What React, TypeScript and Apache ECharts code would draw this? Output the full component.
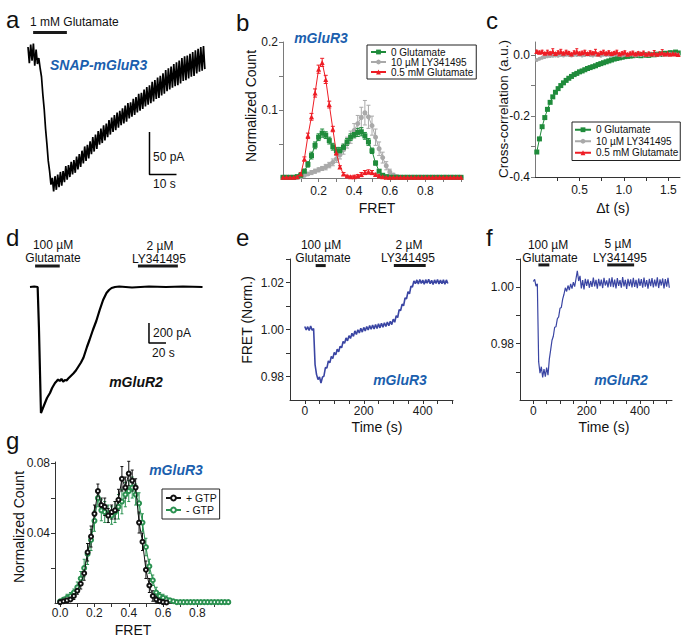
import React, { useEffect, useRef } from "react";
import * as echarts from "echarts";

const FONT = "'Liberation Sans', Arial, Helvetica, sans-serif";
const LABEL_BLUE = "#1b5fae";
const TRACE_BLUE = "#3a45a3";
const B_GREEN_C = "#1f8b3b";
const B_GREY_C = "#a9a9a9";
const B_RED_C = "#ee1d25";
const G_GREEN_C = "#2a9150";

// ---------- panel a: SNAP-mGluR3 current (pA), sampled every 0.5 s ----------
const A_DT = 0.5;
const A_CURRENT = [
  10, -9, 13, -6, 14, -12, 7, -10,
  -3, -15, -25, -46, -63, -86, -104, -124, -136, -152, -144, -160,
  -142, -158, -140, -155, -137, -153, -136, -149, -130, -146,
  -129, -143, -125, -140, -123, -138, -119, -134, -116, -131,
  -112, -127, -107, -124, -105, -121, -101, -116, -96, -113,
  -93, -110, -89, -105, -86, -103, -82, -100, -80, -96,
  -76, -93, -73, -90, -70, -88, -67, -85, -65, -82,
  -62, -80, -59, -78, -56, -74, -55, -72, -51, -70,
  -49, -67, -45, -65, -44, -63, -40, -60, -37, -58,
  -35, -56, -31, -54, -29, -51, -26, -50, -24, -47,
  -21, -45, -17, -42, -15, -40, -13, -38, -10, -36,
  -8, -35, -6, -33, -3, -30, -1, -29, 0, -27,
  2, -25, 4, -24, 6, -21, 8, -19, 10, -18,
  11, -16,
];
const A_SCALE = [[45, -90], [45, -140], [55, -140]];
const A_GLU = [[1.9, 27], [14.4, 27]];

// ---------- panel b: FRET histograms ----------
const B_FRET = [
  0, 0.02, 0.04, 0.06, 0.08, 0.1, 0.12, 0.14, 0.16, 0.18,
  0.2, 0.22, 0.24, 0.26, 0.28, 0.3, 0.32, 0.34, 0.36, 0.38,
  0.4, 0.42, 0.44, 0.46, 0.48, 0.5, 0.52, 0.54, 0.56, 0.58,
  0.6, 0.62, 0.64, 0.66, 0.68, 0.7, 0.72, 0.74, 0.76, 0.78,
  0.8, 0.82, 0.84, 0.86, 0.88, 0.9, 0.92, 0.94, 0.96, 0.98, 1.0,
];
const B_GREEN = [
  0.001, 0.001, 0.001, 0.001, 0.002, 0.004, 0.01, 0.02, 0.033, 0.048,
  0.06, 0.066, 0.063, 0.055, 0.046, 0.04, 0.04, 0.045, 0.053, 0.06,
  0.064, 0.067, 0.068, 0.062, 0.053, 0.04, 0.022, 0.01, 0.004, 0.002,
  0.001, 0.001, 0.001, 0.001, 0.001, 0.001, 0.001, 0.001, 0.001, 0.001,
  0.001, 0.001, 0.001, 0.001, 0.001, 0.001, 0.001, 0.001, 0.001, 0.001, 0.001,
];
const B_GREEN_ERR = [
  0.001, 0.001, 0.001, 0.001, 0.001, 0.002, 0.003, 0.004, 0.005, 0.005,
  0.005, 0.006, 0.005, 0.005, 0.005, 0.005, 0.005, 0.005, 0.005, 0.005,
  0.005, 0.006, 0.006, 0.005, 0.005, 0.004, 0.003, 0.002, 0.002, 0.001,
  0.001, 0.001, 0.001, 0.001, 0.001, 0.001, 0.001, 0.001, 0.001, 0.001,
  0.001, 0.001, 0.001, 0.001, 0.001, 0.001, 0.001, 0.001, 0.001, 0.001, 0.001,
];
const B_GREY = [
  0.001, 0.001, 0.001, 0.001, 0.001, 0.002, 0.004, 0.006, 0.008, 0.01,
  0.012, 0.014, 0.016, 0.019, 0.023, 0.028, 0.034, 0.042, 0.052, 0.06,
  0.07, 0.08, 0.089, 0.096, 0.09, 0.077, 0.06, 0.043, 0.03, 0.018,
  0.009, 0.004, 0.002, 0.001, 0.001, 0.001, 0.001, 0.001, 0.001, 0.001,
  0.001, 0.001, 0.001, 0.001, 0.001, 0.001, 0.001, 0.001, 0.001, 0.001, 0.001,
];
const B_GREY_ERR = [
  0.001, 0.001, 0.001, 0.001, 0.001, 0.002, 0.002, 0.002, 0.003, 0.003,
  0.003, 0.003, 0.004, 0.004, 0.005, 0.005, 0.006, 0.007, 0.008, 0.009,
  0.01, 0.012, 0.015, 0.018, 0.017, 0.014, 0.012, 0.01, 0.008, 0.006,
  0.004, 0.003, 0.002, 0.001, 0.001, 0.001, 0.001, 0.001, 0.001, 0.001,
  0.001, 0.001, 0.001, 0.001, 0.001, 0.001, 0.001, 0.001, 0.001, 0.001, 0.001,
];
const B_RED = [
  0.001, 0.001, 0.001, 0.001, 0.002, 0.006, 0.028, 0.062, 0.09, 0.125,
  0.16, 0.17, 0.145, 0.108, 0.072, 0.037, 0.016, 0.006, 0.003, 0.002,
  0.002, 0.003, 0.005, 0.008, 0.009, 0.008, 0.005, 0.003, 0.002, 0.001,
  0.001, 0.001, 0.001, 0.001, 0.001, 0.001, 0.001, 0.001, 0.001, 0.001,
  0.001, 0.001, 0.001, 0.001, 0.001, 0.001, 0.001, 0.001, 0.001, 0.001, 0.001,
];
const B_RED_ERR = [
  0.001, 0.001, 0.001, 0.001, 0.001, 0.002, 0.003, 0.004, 0.005, 0.006,
  0.006, 0.006, 0.006, 0.005, 0.004, 0.003, 0.002, 0.002, 0.001, 0.001,
  0.002, 0.002, 0.003, 0.003, 0.003, 0.003, 0.002, 0.002, 0.001, 0.001,
  0.001, 0.001, 0.001, 0.001, 0.001, 0.001, 0.001, 0.001, 0.001, 0.001,
  0.001, 0.001, 0.001, 0.001, 0.001, 0.001, 0.001, 0.001, 0.001, 0.001, 0.001,
];

// ---------- panel c: cross-correlation ----------
const C_LAG = [
  0.02, 0.05, 0.08, 0.11, 0.14, 0.17, 0.2, 0.23, 0.26, 0.29,
  0.32, 0.35, 0.38, 0.41, 0.44, 0.47, 0.5, 0.53, 0.56, 0.59,
  0.62, 0.65, 0.68, 0.71, 0.74, 0.77, 0.8, 0.83, 0.86, 0.89,
  0.92, 0.95, 0.98, 1.01, 1.04, 1.07, 1.1, 1.13, 1.16, 1.19,
  1.22, 1.25, 1.28, 1.31, 1.34, 1.37, 1.4, 1.43, 1.46, 1.49,
  1.52, 1.55, 1.58, 1.61,
];
const C_GREEN = [
  -0.318, -0.275, -0.235, -0.205, -0.178, -0.155, -0.137, -0.122, -0.11, -0.1,
  -0.091, -0.083, -0.076, -0.07, -0.064, -0.06, -0.055, -0.052, -0.048, -0.044,
  -0.041, -0.038, -0.035, -0.031, -0.028, -0.025, -0.022, -0.019, -0.016, -0.013,
  -0.011, -0.009, -0.007, -0.005, -0.004, -0.003, -0.002, -0.001, 0, -0.002,
  0.001, 0, -0.001, 0.002, 0.001, 0.003, 0.002, 0.004, 0.006, 0.005,
  0.008, 0.006, 0.01, 0.007,
];
const C_GREY = [
  -0.016, -0.012, -0.009, -0.006, -0.004, -0.003, -0.002, -0.001, -0.002, 0,
  -0.001, 0.001, 0, -0.001, 0.001, 0, 0.001, -0.001, 0, 0.002,
  0, -0.001, 0.001, 0, -0.002, 0.001, 0, 0.001, -0.001, 0,
  0.002, 0, -0.001, 0.001, 0, 0.002, 0.001, -0.001, 0.001, 0,
  0.002, 0.001, 0, 0.003, 0.001, 0.002, 0, 0.003, 0.002, 0.001,
  0.004, 0.002, 0.003, 0.001,
];
const C_RED = [
  0.012, 0.009, 0.011, 0.006, 0.01, 0.007, 0.012, 0.005, 0.009, 0.011,
  0.006, 0.01, 0.008, 0.004, 0.009, 0.011, 0.006, 0.008, 0.01, 0.005,
  0.009, 0.007, 0.011, 0.004, 0.008, 0.01, 0.006, 0.009, 0.005, 0.008,
  0.01, 0.004, 0.007, 0.009, 0.003, 0.006, 0.008, 0.004, 0.007, 0.005,
  0.008, 0.003, 0.006, 0.004, 0.007, 0.003, 0.006, 0.008, 0.004, 0.006,
  0.003, 0.005, 0.004, 0.002,
];
const C_RED_ERR = [
  0.004, 0.004, 0.005, 0.003, 0.006, 0.004, 0.009, 0.003, 0.005, 0.008,
  0.004, 0.006, 0.004, 0.003, 0.005, 0.01, 0.004, 0.005, 0.006, 0.003,
  0.005, 0.004, 0.008, 0.003, 0.004, 0.006, 0.004, 0.005, 0.003, 0.004,
  0.006, 0.003, 0.004, 0.005, 0.003, 0.004, 0.005, 0.003, 0.004, 0.003,
  0.005, 0.003, 0.004, 0.003, 0.008, 0.003, 0.004, 0.01, 0.003, 0.004,
  0.003, 0.004, 0.003, 0.003,
];
const C_Y_TICKS = [-0.4, -0.3, -0.2, -0.1, 0];
const C_Y_LABELS = [-0.4, -0.2, 0];

// ---------- panel d: mGluR2 current ----------
const D_TIME = [
  0, 5, 9, 10.5, 12.9, 15, 17.6, 20, 23.5, 26, 29.4, 31, 33, 35, 37, 39, 41, 43, 45, 48,
  51, 54, 57, 60, 63, 67, 70, 74, 78, 82, 86, 90, 93, 96, 100, 105, 120, 140, 160, 180, 203,
];
const D_CURRENT = [
  0, 5, 0, -400, -1260, -1215, -1160, -1110, -1060, -1010, -960, -945, -925, -940, -918, -948, -930, -935, -915, -890,
  -865, -835, -795, -755, -705, -600, -530, -430, -340, -230, -130, -60, -30, -10, 0, 5, -5, 5, 0, 5, 0,
];
const D_SCALE = [[140, -360], [140, -560], [160, -560]];
const D_GLU = [[6, 210], [35, 210]];
const D_LY = [[127, 210], [174, 210]];

// ---------- panel e: mGluR3 FRET, every 5 s ----------
const E_DT = 5;
const E_FRET = [
  1.0013, 0.9998, 1.0012, 0.9996, 1.0015, 0.9997, 1.0004, 0.985, 0.9808, 0.9787,
  0.9798, 0.9772, 0.9797, 0.9802, 0.9838, 0.9836, 0.9866, 0.9858, 0.9885, 0.9876,
  0.9902, 0.9892, 0.9916, 0.9905, 0.9929, 0.9922, 0.9949, 0.9941, 0.9964, 0.9952,
  0.9974, 0.9962, 0.9984, 0.9971, 0.9994, 0.9979, 0.9999, 0.9985, 1.0005, 0.9989,
  1.0009, 0.9994, 1.0013, 0.9998, 1.0017, 1.0001, 1.0019, 1.0002, 1.0021, 1.0004,
  1.0024, 1.0007, 1.0027, 1.001, 1.0029, 1.0013, 1.0032, 1.0016, 1.0035, 1.0021,
  1.0044, 1.0031, 1.0059, 1.0051, 1.0084, 1.0081, 1.0108, 1.0101, 1.0134, 1.0131,
  1.0161, 1.0152, 1.0184, 1.0181, 1.0207, 1.0195, 1.0211, 1.0194, 1.0213, 1.0196,
  1.021, 1.0193, 1.0212, 1.0197, 1.0214, 1.0195, 1.0209, 1.0192, 1.0211, 1.0196,
  1.0213, 1.0194, 1.021, 1.0195, 1.0212, 1.0193, 1.0211, 1.0196,
];
const E_GLU = [[37, 1.0272], [71, 1.0272]];
const E_LY = [[302, 1.0272], [410, 1.0272]];

// ---------- panel f: mGluR2 FRET, every 5 s ----------
const F_DT = 5;
const F_FRET = [
  1.002, 1.0028, 1.0004, 1.0012, 0.9735, 0.9695, 0.9718, 0.968, 0.971, 0.9683,
  0.9715, 0.9688, 0.9745, 0.9778, 0.9812, 0.9826, 0.9858, 0.986, 0.9888, 0.9895,
  0.9925, 0.9928, 0.9958, 0.9975, 0.9998, 0.9985, 1.0006, 0.999, 1.0012, 0.9995,
  1.0018, 1.0002, 1.003, 1.0058, 1.0022, 1.004, 0.9996, 1.0025, 0.9992, 1.003,
  1.0005, 1.0028, 0.9998, 1.0022, 1.0001, 1.0034, 1.0003, 1.0026, 0.9995, 1.003,
  1.0004, 1.0027, 0.9997, 1.0033, 1.0006, 1.0024, 0.9999, 1.0031, 1.0002, 1.0035,
  1.0, 1.0027, 0.9996, 1.0032, 1.0005, 1.0025, 0.9998, 1.0036, 1.0003, 1.0026,
  0.9994, 1.003, 1.0004, 1.0028, 0.9999, 1.0033, 1.0001, 1.0026, 0.9997, 1.0031,
  1.0005, 1.0029, 0.9998, 1.0034, 1.0002, 1.0025, 0.9995, 1.003, 1.0004, 1.0032,
  0.9999, 1.0027, 1.0003, 1.0035, 0.9997, 1.0028, 1.0006, 1.0031, 0.9996, 1.0029,
  1.0002, 1.0033, 0.9998,
];
const F_GLU = [[19, 1.0079], [60, 1.0079]];
const F_LY = [[277, 1.0079], [378, 1.0079]];

// ---------- panel g: +/- GTP histograms ----------
const G_FRET = [
  0, 0.02, 0.04, 0.06, 0.08, 0.1, 0.12, 0.14, 0.16, 0.18,
  0.2, 0.22, 0.24, 0.26, 0.28, 0.3, 0.32, 0.34, 0.36, 0.38,
  0.4, 0.42, 0.44, 0.46, 0.48, 0.5, 0.52, 0.54, 0.56, 0.58,
  0.6, 0.62, 0.64, 0.66, 0.68, 0.7, 0.72, 0.74, 0.76, 0.78,
  0.8, 0.82, 0.84, 0.86, 0.88, 0.9, 0.92, 0.94, 0.96, 0.98,
];
const G_PLUS = [
  0.0005, 0.001, 0.0015, 0.002, 0.004, 0.007, 0.011, 0.017, 0.029, 0.038,
  0.051, 0.064, 0.056, 0.055, 0.05, 0.052, 0.053, 0.059, 0.071, 0.066,
  0.074, 0.07, 0.066, 0.046, 0.035, 0.019, 0.01, 0.004, 0.002, 0.001,
  0.0005, 0.0003,
];
const G_PLUS_ERR = [
  0.001, 0.001, 0.001, 0.001, 0.002, 0.002, 0.003, 0.004, 0.005, 0.006,
  0.005, 0.004, 0.004, 0.005, 0.004, 0.004, 0.005, 0.006, 0.007, 0.006,
  0.007, 0.006, 0.005, 0.006, 0.005, 0.005, 0.004, 0.003, 0.002, 0.001,
  0.001, 0.001,
];
const G_MINUS = [
  0.001, 0.002, 0.003, 0.004, 0.006, 0.009, 0.014, 0.02, 0.028, 0.036,
  0.047, 0.06, 0.053, 0.052, 0.051, 0.05, 0.052, 0.055, 0.058, 0.062,
  0.064, 0.066, 0.062, 0.057, 0.046, 0.032, 0.021, 0.013, 0.006, 0.004,
  0.003, 0.002, 0.0015, 0.001, 0.0005, 0.0005, 0.0005, 0.0005, 0.0005, 0.0005,
  0.0005, 0.0005, 0.0005, 0.0005, 0.0005, 0.0005, 0.0005, 0.0005, 0.0005, 0.0005,
];
const G_MINUS_ERR = [
  0.001, 0.001, 0.002, 0.002, 0.002, 0.003, 0.004, 0.005, 0.006, 0.006,
  0.006, 0.005, 0.006, 0.006, 0.005, 0.005, 0.006, 0.007, 0.007, 0.007,
  0.006, 0.006, 0.006, 0.006, 0.005, 0.005, 0.004, 0.003, 0.003, 0.002,
  0.002, 0.002, 0.001, 0.001, 0.0005, 0.0005, 0.0005, 0.0005, 0.0005, 0.0005,
  0.0005, 0.0005, 0.0005, 0.0005, 0.0005, 0.0005, 0.0005, 0.0005, 0.0005, 0.0005,
];

// ---------- helpers ----------
const pairs = (xs: number[], ys: number[]) => ys.map((y, i) => [xs[i], y]);
const sampled = (ys: number[], dt: number) => ys.map((y, i) => [i * dt, y]);

const hiddenAxis = (gridIndex: number, min: number, max: number) => ({
  type: "value", gridIndex, min, max, show: false,
});

const valAxis = (
  gridIndex: number, min: number, max: number, ticks: number[], labels: number[],
  fmt: (v: number) => string, color: string, margin: number, showLabels = true
) => ({
  type: "value", gridIndex, min, max,
  splitLine: { show: false },
  axisLine: { show: true, onZero: false, lineStyle: { color, width: 1 } },
  axisTick: { show: true, length: 4, inside: false, customValues: ticks, lineStyle: { color, width: 1 } },
  axisLabel: {
    show: showLabels, customValues: labels, formatter: fmt, fontSize: 12,
    color: "#1a1a1a", fontFamily: FONT, margin, showMinLabel: true, showMaxLabel: true,
  },
});

const line = (idx: number, data: any[], color: string, width: number, extra: any = {}) => ({
  type: "line", xAxisIndex: idx, yAxisIndex: idx, data, symbol: "none",
  lineStyle: { color, width }, silent: true, z: 3, ...extra,
});

const stim = (idx: number, data: any[]) =>
  line(idx, data, "#1a1a1a", 3, { clip: false, z: 4 });

const errSeries = (idx: number, xs: number[], ys: number[], es: number[], color: string, cap: number, floor: number) => ({
  type: "custom", xAxisIndex: idx, yAxisIndex: idx, silent: true, z: 2,
  encode: { x: 0, y: 1 },
  data: ys.map((y, i) => [xs[i], y, es[i]]),
  renderItem: (params: any, api: any) => {
    const x = api.value(0), y = api.value(1), e = api.value(2);
    const top = api.coord([x, y + e]);
    const bot = api.coord([x, Math.max(y - e, floor)]);
    const st = { stroke: color, lineWidth: 1 };
    return {
      type: "group",
      children: [
        { type: "line", shape: { x1: top[0], y1: top[1], x2: bot[0], y2: bot[1] }, style: st },
        { type: "line", shape: { x1: top[0] - cap, y1: top[1], x2: top[0] + cap, y2: top[1] }, style: st },
        { type: "line", shape: { x1: bot[0] - cap, y1: bot[1], x2: bot[0] + cap, y2: bot[1] }, style: st },
      ],
    };
  },
});

const txt = (x: number, y: number, text: string, o: any = {}) => ({
  type: "text", x, y, silent: true, rotation: o.rot || 0, z: o.z || 10,
  style: {
    text,
    fill: o.color || "#111",
    fontSize: o.size || 12,
    fontFamily: FONT,
    fontWeight: o.weight || "normal",
    fontStyle: o.style || "normal",
    align: o.align || "left",
    textAlign: o.align || "left",
    verticalAlign: "middle",
    textVerticalAlign: "middle",
  },
});

const letter = (x: number, y: number, t: string) => txt(x, y, t, { size: 24 });
const tag = (x: number, y: number, t: string, color = LABEL_BLUE) =>
  txt(x, y, t, { size: 14, weight: "bold", style: "italic", color, align: "center" });

const fix = (n: number) => (v: number) => Number(v).toFixed(n);

export default function App() {
  const ref = useRef<HTMLDivElement>(null);
  useEffect(() => {
    const chart = echarts.init(ref.current!, null, { renderer: "svg" });
    const AX_B = "#7a7a7a";
    const AX_D = "#333";
    const graphic: any[] = [
      // panel letters
      letter(6, 19, "a"), letter(236, 22, "b"), letter(486, 20, "c"),
      letter(6, 237, "d"), letter(236, 237, "e"), letter(486, 237, "f"),
      letter(6, 440, "g"),
      // panel a
      txt(30, 22, "1 mM Glutamate"),
      txt(50, 65, "SNAP-mGluR3", { size: 14, weight: "bold", style: "italic", color: LABEL_BLUE }),
      txt(153, 157, "50 pA"),
      txt(153, 184, "10 s"),
      // panel b
      tag(321, 38, "mGluR3"),
      txt(251, 106, "Normalized Count", { size: 14, align: "center", rot: Math.PI / 2 }),
      txt(377, 208, "FRET", { size: 14, align: "center" }),
      // panel c
      txt(503, 109, "Cross-correlation (a.u.)", { size: 13.5, align: "center", rot: Math.PI / 2, z: 9 }),
      txt(613, 208, "Δt (s)", { size: 14, align: "center" }),
      // panel d
      txt(53, 244.5, "100 µM", { align: "center" }),
      txt(53, 257.5, "Glutamate", { align: "center" }),
      txt(160, 245.5, "2 µM", { align: "center" }),
      txt(159, 258.5, "LY341495", { align: "center" }),
      txt(153, 333, "200 pA"),
      txt(152, 353, "20 s"),
      tag(136, 382, "mGluR2", "#111"),
      // panel e
      txt(321, 245, "100 µM", { align: "center" }),
      txt(323, 258, "Glutamate", { align: "center" }),
      txt(409, 245, "2 µM", { align: "center" }),
      txt(408, 258, "LY341495", { align: "center" }),
      tag(400, 380, "mGluR3"),
      txt(247, 320, "FRET (Norm.)", { size: 14, align: "center", rot: Math.PI / 2 }),
      txt(377, 427, "Time (s)", { size: 14, align: "center" }),
      // panel f
      txt(548, 245, "100 µM", { align: "center" }),
      txt(550, 258, "Glutamate", { align: "center" }),
      txt(618, 244, "5 µM", { align: "center" }),
      txt(620, 258, "LY341495", { align: "center" }),
      tag(621, 380, "mGluR2"),
      txt(604, 427, "Time (s)", { size: 14, align: "center" }),
      // panel g
      tag(176, 470, "mGluR3"),
      txt(19, 527, "Normalized Count", { size: 14, align: "center", rot: Math.PI / 2 }),
      txt(133, 630, "FRET", { size: 14, align: "center" }),
    ];
    const option: any = {
      animation: false,
      backgroundColor: "#fff",
      textStyle: { fontFamily: FONT },
      grid: [
        { left: 28, top: 30, width: 180, height: 170 },
        { left: 283, top: 42, width: 178, height: 136 },
        { left: 535, top: 42, width: 145, height: 135 },
        { left: 30, top: 260, width: 180, height: 160 },
        { left: 290, top: 259, width: 163, height: 141 },
        { left: 520, top: 259, width: 152, height: 141 },
        { left: 55, top: 462, width: 175, height: 141 },
      ],
      xAxis: [
        hiddenAxis(0, 0, 66.67),
        valAxis(1, 0, 1, [0.1, 0.2, 0.3, 0.4, 0.5, 0.6, 0.7, 0.8, 0.9, 1.0], [0.2, 0.4, 0.6, 0.8], fix(1), AX_B, 7),
        valAxis(2, 0, 1.63, [0.25, 0.5, 0.75, 1.0, 1.25, 1.5], [0.5, 1.0, 1.5], fix(1), AX_D, 7),
        hiddenAxis(3, 0, 211.8),
        valAxis(4, -50, 502.5, [0, 50, 100, 150, 200, 250, 300, 350, 400, 450, 500], [0, 200, 400], fix(0), AX_D, 5),
        valAxis(5, -50, 520, [0, 50, 100, 150, 200, 250, 300, 350, 400, 450, 500], [0, 200, 400], fix(0), AX_D, 5),
        valAxis(6, -0.03, 0.99, [0, 0.1, 0.2, 0.3, 0.4, 0.5, 0.6, 0.7, 0.8, 0.9], [0, 0.2, 0.4, 0.6, 0.8], fix(1), AX_D, 4),
      ],
      yAxis: [
        hiddenAxis(0, -170, 30),
        valAxis(1, 0, 0.2, [0.05, 0.1, 0.15, 0.2], [0.1, 0.2], fix(1), AX_B, 5),
        // c: ticks from the axis; its labels are placed from the same scale below
        valAxis(2, -0.4, 0.043, C_Y_TICKS, C_Y_LABELS, fix(1), AX_B, 5, false),
        hiddenAxis(3, -1330, 270),
        valAxis(4, 0.97, 1.03, [0.98, 0.99, 1.0, 1.01, 1.02, 1.03], [0.98, 1.0, 1.02], fix(2), AX_D, 6),
        valAxis(5, 0.96, 1.01, [0.97, 0.98, 0.99, 1.0, 1.01], [0.98, 1.0], fix(2), AX_D, 6),
        valAxis(6, 0, 0.0806, [0.02, 0.04, 0.06, 0.08], [0.04, 0.08], fix(2), AX_D, 5),
      ],
      legend: [
        {
          orient: "vertical", left: 367, top: 45, selectedMode: false,
          data: ["0 Glutamate", "10 µM LY341495", "0.5 mM Glutamate"],
          itemWidth: 15, itemHeight: 6, itemGap: 0, padding: [2, 3, 2, 3],
          borderColor: "#222", borderWidth: 1, backgroundColor: "#fff",
          textStyle: { fontSize: 10, lineHeight: 10, fontFamily: FONT, color: "#111" },
        },
        {
          orient: "vertical", left: 572, top: 122, selectedMode: false,
          data: ["0 Glutamate", "10 µM LY341495", "0.5 mM Glutamate"],
          itemWidth: 16, itemHeight: 6, itemGap: 0, padding: [2, 2, 2, 2],
          borderColor: "#222", borderWidth: 1, backgroundColor: "#fff",
          textStyle: { fontSize: 10, lineHeight: 11.5, fontFamily: FONT, color: "#111" },
        },
        {
          orient: "vertical", left: 162, top: 489, selectedMode: false,
          data: ["+ GTP", "- GTP"],
          itemWidth: 15, itemHeight: 6, itemGap: 0, padding: [3, 3, 3, 3],
          borderColor: "#222", borderWidth: 1, backgroundColor: "#fff",
          textStyle: { fontSize: 10.5, lineHeight: 12, fontFamily: FONT, color: "#111" },
        },
      ],
      series: [
        // a
        line(0, sampled(A_CURRENT, A_DT), "#000", 1.7),
        line(0, A_SCALE, "#000", 1.5),
        stim(0, A_GLU),
        // b
        errSeries(1, B_FRET, B_GREY, B_GREY_ERR, B_GREY_C, 2, 0),
        errSeries(1, B_FRET, B_GREEN, B_GREEN_ERR, B_GREEN_C, 2, 0),
        errSeries(1, B_FRET, B_RED, B_RED_ERR, B_RED_C, 2, 0),
        {
          type: "line", name: "10 µM LY341495", xAxisIndex: 1, yAxisIndex: 1, data: pairs(B_FRET, B_GREY),
          symbol: "circle", symbolSize: 5, lineStyle: { color: B_GREY_C, width: 1 },
          itemStyle: { color: B_GREY_C }, z: 3,
        },
        {
          type: "line", name: "0 Glutamate", xAxisIndex: 1, yAxisIndex: 1, data: pairs(B_FRET, B_GREEN),
          symbol: "rect", symbolSize: 5, lineStyle: { color: B_GREEN_C, width: 1 },
          itemStyle: { color: B_GREEN_C }, z: 4,
        },
        {
          type: "line", name: "0.5 mM Glutamate", xAxisIndex: 1, yAxisIndex: 1, data: pairs(B_FRET, B_RED),
          symbol: "triangle", symbolSize: 5, lineStyle: { color: B_RED_C, width: 1 },
          itemStyle: { color: B_RED_C }, z: 5,
        },
        // c
        errSeries(2, C_LAG, C_RED, C_RED_ERR, B_RED_C, 1.5, -1),
        {
          type: "line", name: "0 Glutamate", xAxisIndex: 2, yAxisIndex: 2, data: pairs(C_LAG, C_GREEN),
          symbol: "rect", symbolSize: 5, lineStyle: { color: B_GREEN_C, width: 1 },
          itemStyle: { color: B_GREEN_C }, z: 3,
        },
        {
          type: "line", name: "10 µM LY341495", xAxisIndex: 2, yAxisIndex: 2, data: pairs(C_LAG, C_GREY),
          symbol: "circle", symbolSize: 4, lineStyle: { color: B_GREY_C, width: 1 },
          itemStyle: { color: B_GREY_C }, z: 4,
        },
        {
          type: "line", name: "0.5 mM Glutamate", xAxisIndex: 2, yAxisIndex: 2, data: pairs(C_LAG, C_RED),
          symbol: "triangle", symbolSize: 5, lineStyle: { color: B_RED_C, width: 1 },
          itemStyle: { color: B_RED_C }, z: 5,
        },
        // d
        line(3, pairs(D_TIME, D_CURRENT), "#000", 2.2),
        line(3, D_SCALE, "#000", 1.5),
        stim(3, D_GLU),
        stim(3, D_LY),
        // e
        line(4, sampled(E_FRET, E_DT), TRACE_BLUE, 1.6),
        stim(4, E_GLU),
        stim(4, E_LY),
        // f
        line(5, sampled(F_FRET, F_DT), TRACE_BLUE, 1.2),
        stim(5, F_GLU),
        stim(5, F_LY),
        // g
        errSeries(6, G_FRET, G_MINUS, G_MINUS_ERR, G_GREEN_C, 1.5, 0),
        errSeries(6, G_FRET, G_PLUS, G_PLUS_ERR, "#111", 1.5, 0),
        {
          type: "line", name: "- GTP", xAxisIndex: 6, yAxisIndex: 6, data: pairs(G_FRET, G_MINUS),
          symbol: "emptyCircle", symbolSize: 4, lineStyle: { color: G_GREEN_C, width: 1 },
          itemStyle: { color: G_GREEN_C, borderWidth: 1 }, z: 3,
        },
        {
          type: "line", name: "+ GTP", xAxisIndex: 6, yAxisIndex: 6, data: pairs(G_FRET, G_PLUS),
          symbol: "emptyCircle", symbolSize: 4, lineStyle: { color: "#111", width: 1 },
          itemStyle: { color: "#111", borderWidth: 1 }, z: 4,
        },
      ],
      graphic,
    };
    chart.setOption(option);
    // c's y tick labels, positioned through the c y-axis scale
    const axisX = chart.convertToPixel({ xAxisIndex: 2 }, 0) as number;
    const cLabels = C_Y_LABELS.map((v) => {
      const py = chart.convertToPixel({ yAxisIndex: 2 }, v) as number;
      const label = Math.abs(v) < 1e-9 ? "0.0" : v.toFixed(1);
      return txt(axisX - 5, py, label, { align: "right", z: 11 });
    });
    chart.setOption({ graphic: [...graphic, ...cLabels] });
    return () => chart.dispose();
  }, []);
  return (
    <div
      ref={ref}
      style={{ position: "absolute", left: 0, top: 0, width: 686, height: 644, background: "#fff" }}
    />
  );
}
